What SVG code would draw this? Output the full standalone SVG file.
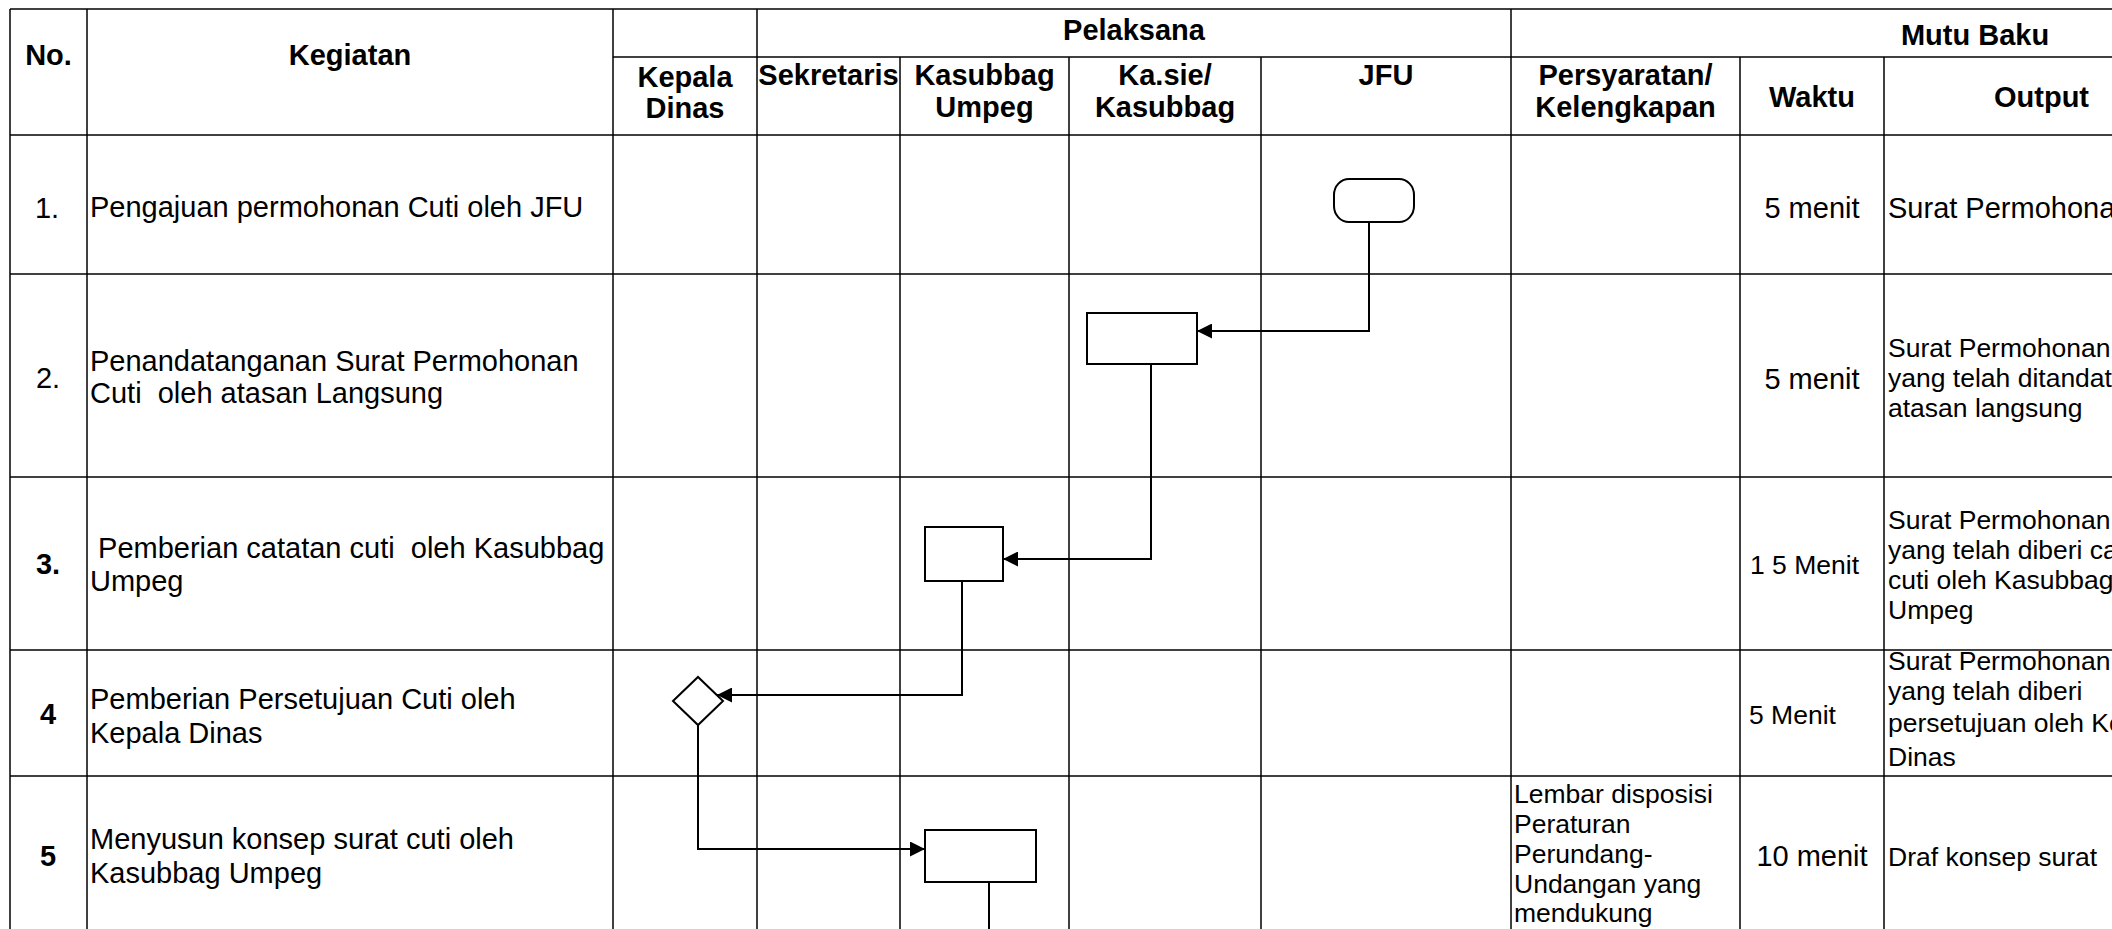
<svg xmlns="http://www.w3.org/2000/svg" width="2112" height="929" viewBox="0 0 2112 929">
<style>
.grid{stroke:#000;stroke-width:1.5;fill:none}
.shape{stroke:#000;stroke-width:2;fill:#fff}
.conn{stroke:#000;stroke-width:2;fill:none}
text{font-family:"Liberation Sans",Arial,sans-serif;fill:#000}
.h{font-size:29px;font-weight:bold;text-anchor:middle}
.b{font-size:29px}
.bc{font-size:29px;text-anchor:middle}
.bb{font-size:29px;font-weight:bold;text-anchor:middle}
.s{font-size:26.5px}
</style>
<defs>
<marker id="ah" markerWidth="15" markerHeight="15" refX="15" refY="7.5" orient="auto" markerUnits="userSpaceOnUse"><path d="M0,0 L15,7.5 L0,15 z" fill="#000"/></marker>
</defs>
<rect x="0" y="0" width="2112" height="929" fill="#fff"/>
<g id="table" class="grid">
<line x1="10" y1="9" x2="2112" y2="9"/>
<line x1="613" y1="57" x2="2112" y2="57"/>
<line x1="10" y1="135" x2="2112" y2="135"/>
<line x1="10" y1="274" x2="2112" y2="274"/>
<line x1="10" y1="477" x2="2112" y2="477"/>
<line x1="10" y1="650" x2="2112" y2="650"/>
<line x1="10" y1="776" x2="2112" y2="776"/>
<line x1="10" y1="9" x2="10" y2="929"/>
<line x1="87" y1="9" x2="87" y2="929"/>
<line x1="613" y1="9" x2="613" y2="929"/>
<line x1="757" y1="9" x2="757" y2="929"/>
<line x1="900" y1="57" x2="900" y2="929"/>
<line x1="1069" y1="57" x2="1069" y2="929"/>
<line x1="1261" y1="57" x2="1261" y2="929"/>
<line x1="1511" y1="9" x2="1511" y2="929"/>
<line x1="1740" y1="57" x2="1740" y2="929"/>
<line x1="1884" y1="57" x2="1884" y2="929"/>
</g>
<g id="connectors" class="conn">
<path d="M1369,222 V331 H1197" marker-end="url(#ah)"/>
<path d="M1151,364 V559 H1003" marker-end="url(#ah)"/>
<path d="M962,581 V695 H717" marker-end="url(#ah)"/>
<path d="M698,725 V849 H925" marker-end="url(#ah)"/>
<path d="M989,882 V929"/>
</g>
<g id="n1"><rect class="shape" x="1334" y="179" width="80" height="43" rx="15" ry="16"/></g>
<g id="n2"><rect class="shape" x="1087" y="313" width="110" height="51"/></g>
<g id="n3"><rect class="shape" x="925" y="527" width="78" height="54"/></g>
<g id="n4"><polygon class="shape" points="673,701 698,677 723,701 698,725"/></g>
<g id="n5"><rect class="shape" x="925" y="830" width="111" height="52"/></g>
<g id="texts">
<text class="h" x="48.5" y="65">No.</text>
<text class="h" x="350" y="65">Kegiatan</text>
<text class="h" x="1134" y="40">Pelaksana</text>
<text class="h" x="1975" y="45">Mutu Baku</text>
<text class="h" x="685" y="87">Kepala</text>
<text class="h" x="685" y="118">Dinas</text>
<text class="h" x="828.5" y="85">Sekretaris</text>
<text class="h" x="984.5" y="85">Kasubbag</text>
<text class="h" x="984.5" y="117">Umpeg</text>
<text class="h" x="1165" y="85">Ka.sie/</text>
<text class="h" x="1165" y="117">Kasubbag</text>
<text class="h" x="1386" y="85">JFU</text>
<text class="h" x="1625.5" y="85">Persyaratan/</text>
<text class="h" x="1625.5" y="117">Kelengkapan</text>
<text class="h" x="1812" y="107">Waktu</text>
<text class="h" x="2041.5" y="107">Output</text>

<text class="bc" x="47" y="218">1.</text>
<text class="b" x="90" y="217">Pengajuan permohonan Cuti oleh JFU</text>
<text class="bc" x="1812" y="218">5 menit</text>
<text class="b" x="1888" y="218">Surat Permohona</text>

<text class="bc" x="48" y="388">2.</text>
<text class="b" x="90" y="371">Penandatanganan Surat Permohonan</text>
<text class="b" x="90" y="403" xml:space="preserve">Cuti  oleh atasan Langsung</text>
<text class="bc" x="1812" y="389">5 menit</text>
<text class="s" x="1888" y="357">Surat Permohonan</text>
<text class="s" x="1888" y="387">yang telah ditandat</text>
<text class="s" x="1888" y="417">atasan langsung</text>

<text class="bb" x="48" y="574">3.</text>
<text class="b" x="90" y="558" xml:space="preserve"> Pemberian catatan cuti  oleh Kasubbag</text>
<text class="b" x="90" y="591">Umpeg</text>
<text class="s" x="1750" y="574">1 5 Menit</text>
<text class="s" x="1888" y="529">Surat Permohonan</text>
<text class="s" x="1888" y="559">yang telah diberi ca</text>
<text class="s" x="1888" y="589">cuti oleh Kasubbag</text>
<text class="s" x="1888" y="619">Umpeg</text>

<text class="bb" x="48" y="724">4</text>
<text class="b" x="90" y="709">Pemberian Persetujuan Cuti oleh</text>
<text class="b" x="90" y="743">Kepala Dinas</text>
<text class="s" x="1749" y="724">5 Menit</text>
<text class="s" x="1888" y="670">Surat Permohonan</text>
<text class="s" x="1888" y="700">yang telah diberi</text>
<text class="s" x="1888" y="732">persetujuan oleh Ke</text>
<text class="s" x="1888" y="766">Dinas</text>

<text class="bb" x="48" y="866">5</text>
<text class="b" x="90" y="849">Menyusun konsep surat cuti oleh</text>
<text class="b" x="90" y="883">Kasubbag Umpeg</text>
<text class="s" x="1514" y="803">Lembar disposisi</text>
<text class="s" x="1514" y="833">Peraturan</text>
<text class="s" x="1514" y="863">Perundang-</text>
<text class="s" x="1514" y="893">Undangan yang</text>
<text class="s" x="1514" y="922">mendukung</text>
<text class="bc" x="1812" y="866">10 menit</text>
<text class="s" x="1888" y="866">Draf konsep surat</text>
</g>
</svg>
